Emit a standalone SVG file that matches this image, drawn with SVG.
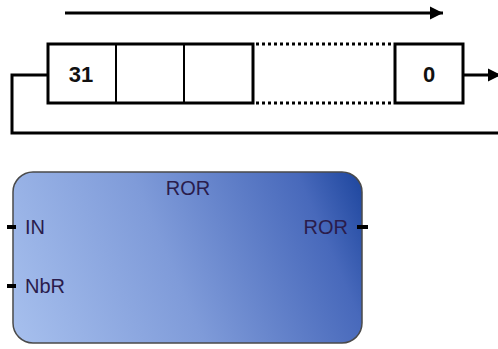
<svg xmlns="http://www.w3.org/2000/svg" width="498" height="349" viewBox="0 0 498 349">
  <defs>
    <linearGradient id="blk" gradientUnits="userSpaceOnUse" x1="13" y1="330" x2="362" y2="180">
      <stop offset="0" stop-color="#a6bfed"/>
      <stop offset="0.45" stop-color="#7f9bd9"/>
      <stop offset="0.85" stop-color="#4869bb"/>
      <stop offset="1" stop-color="#1f479f"/>
    </linearGradient>
    <marker id="ah" viewBox="0 0 10 10" refX="10" refY="5" markerWidth="4.4" markerHeight="6" markerUnits="strokeWidth" orient="auto">
      <path d="M0,0 L10,5 L0,10 Z" fill="#000"/>
    </marker>
  </defs>
  <style>
    .wire { fill: none; stroke: #000; stroke-width: 3; }
    .box { fill: none; stroke: #000; stroke-width: 3; }
    .div { stroke: #000; stroke-width: 2; }
    .dot { stroke: #000; stroke-width: 3; stroke-dasharray: 3 3; }
    .bit { font-family: "Liberation Sans", Arial, sans-serif; font-weight: bold; font-size: 22px; fill: #111; text-anchor: middle; }
    .lbl { font-family: "Liberation Sans", Arial, sans-serif; font-size: 20px; fill: #2a1c4c; }
    .pin { stroke: #000; stroke-width: 4; }
  </style>
  <rect width="498" height="349" fill="#fff"/>

  <g id="connectors">
    <path class="wire" d="M65,13 L443,13" marker-end="url(#ah)"/>
    <path class="wire" d="M463,75 L501,75" marker-end="url(#ah)"/>
    <path class="wire" d="M48,75 L12,75 L12,133 L498,133"/>
    <line class="dot" x1="256" y1="44" x2="394" y2="44"/>
    <line class="dot" x1="256" y1="103" x2="394" y2="103"/>
  </g>

  <g id="register-high">
    <rect class="box" x="48" y="44" width="205" height="59"/>
    <line class="div" x1="116" y1="44" x2="116" y2="103"/>
    <line class="div" x1="184" y1="44" x2="184" y2="103"/>
    <text class="bit" x="81" y="82">31</text>
  </g>

  <g id="register-low">
    <rect class="box" x="395" y="44" width="68" height="59"/>
    <text class="bit" x="429" y="82">0</text>
  </g>

  <g id="ror-block">
    <rect x="13" y="172" width="349" height="171" rx="20" ry="20" fill="url(#blk)" stroke="#4a4a4a" stroke-width="1.5"/>
    <line class="pin" x1="7" y1="227" x2="16" y2="227"/>
    <line class="pin" x1="7" y1="286" x2="16" y2="286"/>
    <line class="pin" x1="357" y1="227" x2="368" y2="227"/>
    <text class="lbl" x="188" y="195" text-anchor="middle">ROR</text>
    <text class="lbl" x="25" y="234">IN</text>
    <text class="lbl" x="25" y="293">NbR</text>
    <text class="lbl" x="348" y="234" text-anchor="end">ROR</text>
  </g>
</svg>
